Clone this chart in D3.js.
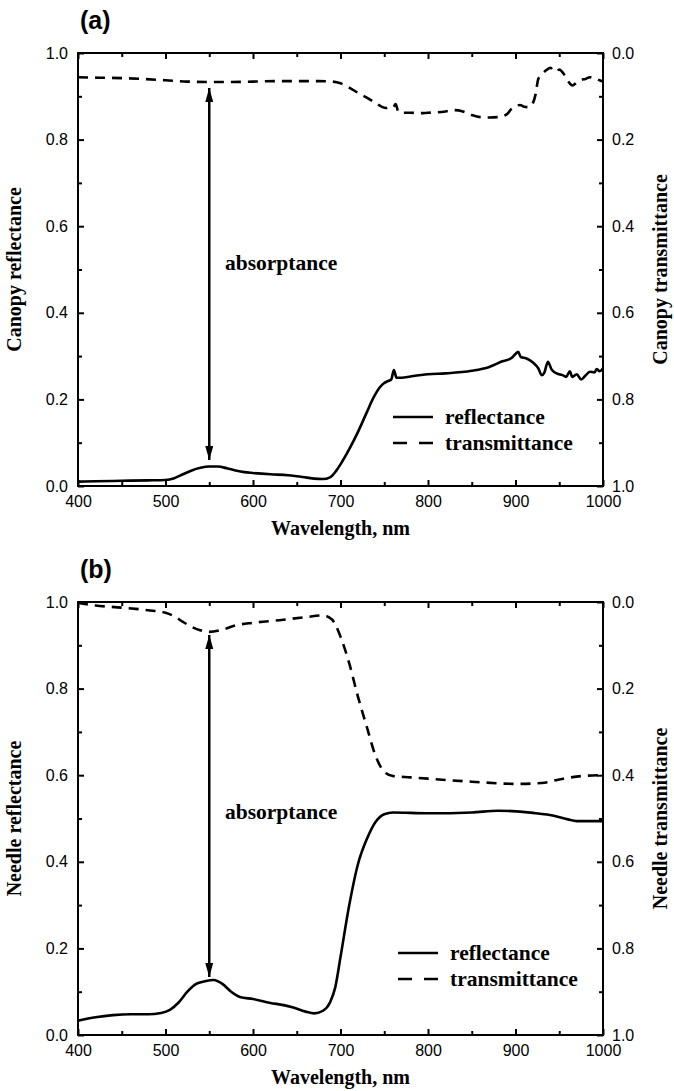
<!DOCTYPE html>
<html>
<head>
<meta charset="utf-8">
<script src="https://cdn.jsdelivr.net/npm/d3@7"></script>
<style>
  html, body { margin: 0; padding: 0; background: #fff; }
  svg { display: block; }
  .tick-label { font-family: "Liberation Sans", Arial, sans-serif; font-size: 16px; fill: #000; }
  .title { font-family: "Liberation Serif", "Times New Roman", serif; font-weight: bold; font-size: 20px; fill: #000; }
  .note { font-family: "Liberation Serif", "Times New Roman", serif; font-weight: bold; font-size: 21.5px; fill: #000; }
  .panel-label { font-family: "Liberation Sans", Arial, sans-serif; font-weight: bold; font-size: 25px; fill: #000; }
</style>
</head>
<body>
<script>
// ---- Panel (a): canopy spectra ----
const canopyReflWl = [400,420,450,480,500,510,520,530,540,550,560,570,580,590,600,620,640,660,670,680,688,695,700,710,720,730,738,745,750,755,758,761,764,770,780,800,820,850,870,885,895,900,903,906,912,920,926,930,933,937,941,945,950,955,958,962,965,970,975,980,985,990,993,996,1000];
const canopyRefl   = [.010,.011,.012,.013,.014,.018,.027,.036,.042,.045,.045,.041,.036,.032,.030,.027,.025,.020,.017,.016,.020,.035,.050,.085,.125,.170,.205,.228,.238,.243,.246,.268,.250,.250,.253,.258,.260,.266,.275,.288,.295,.305,.310,.298,.295,.285,.272,.256,.262,.287,.270,.262,.258,.255,.252,.265,.252,.258,.246,.255,.264,.262,.270,.265,.272];

const canopyTransWl = [400,425,450,475,500,525,550,575,600,625,650,675,690,700,710,720,730,740,748,752,756,760,763,766,770,780,790,800,810,820,830,840,850,860,870,880,890,895,900,905,910,915,920,923,926,930,935,940,943,947,950,955,960,965,970,975,980,985,990,995,1000];
const canopyTrans   = [.056,.057,.058,.060,.063,.066,.067,.067,.066,.065,.065,.065,.066,.070,.080,.092,.103,.115,.125,.127,.125,.126,.118,.135,.138,.138,.139,.138,.137,.135,.132,.135,.143,.148,.149,.148,.142,.130,.125,.120,.124,.125,.115,.095,.060,.050,.040,.034,.040,.043,.038,.048,.065,.075,.068,.062,.060,.056,.058,.062,.066];

// ---- Panel (b): needle spectra ----
const needleReflWl = [400,420,440,460,480,495,505,515,525,535,545,555,565,575,585,600,620,635,645,660,670,680,688,694,700,710,720,730,740,750,760,800,850,880,920,945,960,970,1000];
const needleRefl   = [.033,.041,.046,.048,.048,.051,.058,.075,.100,.118,.124,.127,.118,.100,.088,.083,.074,.069,.064,.054,.050,.056,.075,.110,.180,.300,.395,.452,.492,.510,.514,.512,.514,.518,.513,.506,.498,.494,.494];

const needleTransWl = [400,420,450,480,500,510,520,535,550,565,580,600,630,660,680,690,700,710,720,730,740,750,760,780,800,850,900,930,950,975,1000];
const needleTrans   = [.002,.008,.013,.019,.025,.033,.046,.062,.069,.064,.054,.048,.042,.035,.031,.040,.080,.142,.219,.288,.355,.392,.402,.405,.408,.415,.420,.418,.410,.402,.400];

// Absorptance arrow at 550 nm (ends in reflectance units)
const arrowWl = 550;
const canopyArrow = [0.060, 0.919];
const needleArrow = [0.134, 0.924];

// Axis ticks
const xMajorTicks = [400,500,600,700,800,900,1000];
const xMinorTicks = [450,550,650,750,850,950];
const yMajorTicks = [0,0.2,0.4,0.6,0.8,1.0];
const yMinorTicks = [0.1,0.3,0.5,0.7,0.9];

const W = 674, H = 1091;
const svg = d3.select("body").append("svg").attr("width", W).attr("height", H);

const defs = svg.append("defs");
defs.append("marker")
  .attr("id", "head")
  .attr("viewBox", "0 0 14 8")
  .attr("refX", 14).attr("refY", 4)
  .attr("markerUnits", "userSpaceOnUse")
  .attr("markerWidth", 15).attr("markerHeight", 8)
  .attr("orient", "auto-start-reverse")
  .append("path").attr("d", "M0,0 L14,4 L0,8 Z").attr("fill", "#000");

const left = 78, right = 603, plotH = 433;
const x = d3.scaleLinear().domain([400, 1000]).range([left, right]);

function drawPanel(cfg) {
  const top = cfg.top, bottom = top + plotH;
  const yL = d3.scaleLinear().domain([0, 1]).range([bottom, top]);
  const yR = d3.scaleLinear().domain([0, 1]).range([top, bottom]);
  const g = svg.append("g");

  // data lines
  const reflLine = d3.line().x((d, i) => x(cfg.reflWl[i])).y(d => yL(d)).curve(d3.curveMonotoneX);
  const transLine = d3.line().x((d, i) => x(cfg.transWl[i])).y(d => yR(d)).curve(d3.curveMonotoneX);
  g.append("path").datum(cfg.refl).attr("d", reflLine)
    .attr("fill", "none").attr("stroke", "#000").attr("stroke-width", 2.6).attr("stroke-linejoin", "round");
  g.append("path").datum(cfg.trans).attr("d", transLine)
    .attr("fill", "none").attr("stroke", "#000").attr("stroke-width", 2.6)
    .attr("stroke-dasharray", "10,7");

  // bottom axis (labels) and top axis (ticks only), ticks pointing inward
  const xb = g.append("g").attr("transform", `translate(0,${bottom})`)
    .call(d3.axisBottom(x).tickValues(xMajorTicks).tickSize(-6).tickPadding(10).tickFormat(d3.format("d")));
  const xbMin = g.append("g").attr("transform", `translate(0,${bottom})`)
    .call(d3.axisBottom(x).tickValues(xMinorTicks).tickSize(-4).tickFormat(""));
  const xt = g.append("g").attr("transform", `translate(0,${top})`)
    .call(d3.axisTop(x).tickValues(xMajorTicks).tickSize(-6).tickFormat(""));
  const xtMin = g.append("g").attr("transform", `translate(0,${top})`)
    .call(d3.axisTop(x).tickValues(xMinorTicks).tickSize(-4).tickFormat(""));

  // left (reflectance) and right (transmittance, reversed) axes
  const yl = g.append("g").attr("transform", `translate(${left},0)`)
    .call(d3.axisLeft(yL).tickValues(yMajorTicks).tickSize(-6).tickPadding(10).tickFormat(d3.format(".1f")));
  const ylMin = g.append("g").attr("transform", `translate(${left},0)`)
    .call(d3.axisLeft(yL).tickValues(yMinorTicks).tickSize(-4).tickFormat(""));
  const yr = g.append("g").attr("transform", `translate(${right},0)`)
    .call(d3.axisRight(yR).tickValues(yMajorTicks).tickSize(-6).tickPadding(9).tickFormat(d3.format(".1f")));
  const yrMin = g.append("g").attr("transform", `translate(${right},0)`)
    .call(d3.axisRight(yR).tickValues(yMinorTicks).tickSize(-4).tickFormat(""));

  [xb, xbMin, xt, xtMin, yl, ylMin, yr, yrMin].forEach(a => {
    a.select(".domain").remove();
    a.selectAll(".tick line").attr("stroke", "#000").attr("stroke-width", 2);
    a.selectAll(".tick text").attr("class", "tick-label").attr("fill", "#000");
  });

  // frame
  g.append("rect").attr("x", left).attr("y", top).attr("width", right - left).attr("height", plotH)
    .attr("fill", "none").attr("stroke", "#000").attr("stroke-width", 2);

  // absorptance arrow
  g.append("line")
    .attr("x1", x(arrowWl)).attr("x2", x(arrowWl))
    .attr("y1", yL(cfg.arrow[0])).attr("y2", yL(cfg.arrow[1]))
    .attr("stroke", "#000").attr("stroke-width", 2.5)
    .attr("marker-start", "url(#head)").attr("marker-end", "url(#head)");
  g.append("text").attr("class", "note").attr("x", 225).attr("y", top + 217).text("absorptance");

  // legend
  const lg = g.append("g").attr("transform", `translate(${cfg.legendX},${cfg.legendY})`);
  lg.append("line").attr("x1", 0).attr("x2", 40).attr("y1", 0).attr("y2", 0)
    .attr("stroke", "#000").attr("stroke-width", 2.6);
  lg.append("text").attr("class", "note").attr("x", 52).attr("y", 7).text("reflectance");
  lg.append("line").attr("x1", 0).attr("x2", 40).attr("y1", 26).attr("y2", 26)
    .attr("stroke", "#000").attr("stroke-width", 2.6).attr("stroke-dasharray", "14,12");
  lg.append("text").attr("class", "note").attr("x", 52).attr("y", 33).text("transmittance");

  // titles
  g.append("text").attr("class", "panel-label").attr("x", 80).attr("y", top - 24).text(cfg.label);
  g.append("text").attr("class", "title").attr("text-anchor", "middle")
    .attr("x", (left + right) / 2).attr("y", bottom + 49).text("Wavelength, nm");
  g.append("text").attr("class", "title").attr("text-anchor", "middle")
    .attr("transform", `translate(21,${(top + bottom) / 2}) rotate(-90)`).text(cfg.leftTitle);
  g.append("text").attr("class", "title").attr("text-anchor", "middle")
    .attr("transform", `translate(667,${(top + bottom) / 2}) rotate(-90)`).text(cfg.rightTitle);
}

drawPanel({
  top: 53, label: "(a)",
  reflWl: canopyReflWl, refl: canopyRefl, transWl: canopyTransWl, trans: canopyTrans,
  arrow: canopyArrow, legendX: 393, legendY: 417,
  leftTitle: "Canopy reflectance", rightTitle: "Canopy transmittance"
});
drawPanel({
  top: 602, label: "(b)",
  reflWl: needleReflWl, refl: needleRefl, transWl: needleTransWl, trans: needleTrans,
  arrow: needleArrow, legendX: 398, legendY: 953,
  leftTitle: "Needle reflectance", rightTitle: "Needle transmittance"
});
</script>
</body>
</html>
